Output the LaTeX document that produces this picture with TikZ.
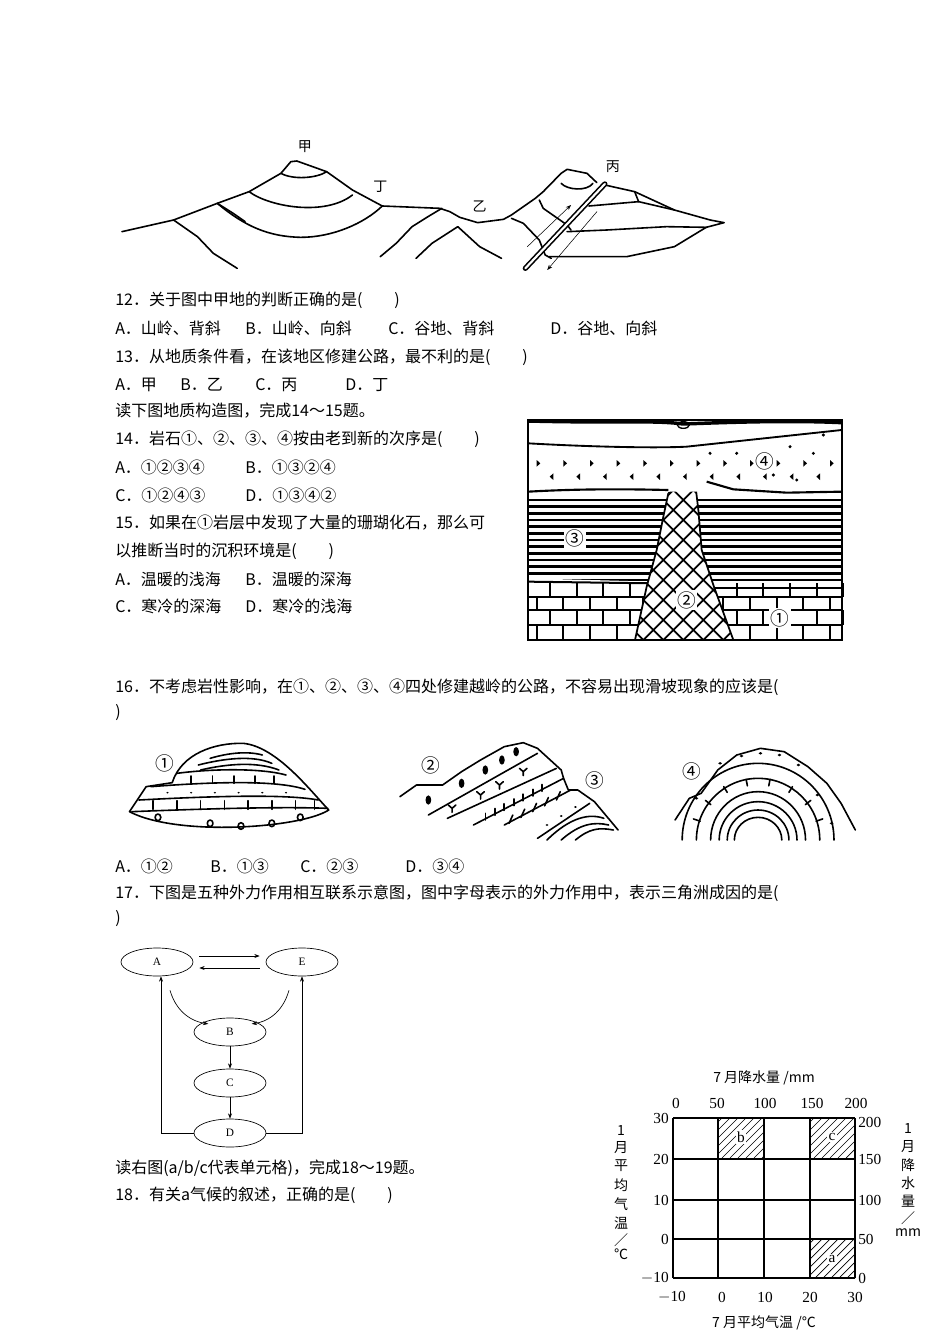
\documentclass[tikz,border=0pt]{standalone}
\usepackage{fontspec}
\setmainfont{Noto Sans CJK SC}
\newfontfamily\serif{Liberation Serif}
\usetikzlibrary{shapes.geometric,arrows.meta,calc}
\tikzset{
 txt/.style={anchor=west,inner sep=0pt,font=\fontsize{12}{12}\selectfont},
 sk/.style={line width=1.2pt,line join=round,line cap=round},
 ell/.style={ellipse,draw,line width=0.5pt,minimum width=54pt,minimum height=21pt,inner sep=0pt,font=\serif\fontsize{8.5}{8.5}\selectfont},
 fa/.style={-{Stealth[length=4pt,width=3pt]},line width=0.5pt},
 num/.style={inner sep=0pt,font=\serif\fontsize{11.5}{11.5}\selectfont},
 cj/.style={inner sep=0pt,font=\fontsize{10.5}{10.5}\selectfont},
 circ/.style={inner sep=1pt,font=\fontsize{14}{14}\selectfont}
}
\begin{document}
\begin{tikzpicture}[x=0.75pt,y=-0.75pt]
\fill[white] (0,0) rectangle (950,1344);
\useasboundingbox (0,0) rectangle (950,1344);

% ---------- top cross-section ----------
\begin{scope}[shift={(110,130)}]
\begin{scope}[x=0.2981pt,y=-0.25pt,sk]
\draw (30,305)--(160,270)--(270,220)--(350,185)--(430,130)--(455,95)--(470,93)--(545,125)--(610,180)--(685,228)--(830,235)--(855,245)--(880,262)--(925,278)--(990,268)--(1010,255)--(1070,205)--(1090,185)--(1135,130)--(1150,118)--(1200,130)--(1225,158);
\draw (1245,165)--(1320,185)--(1420,240)--(1510,270)--(1545,278)--(1500,292);
\draw (430,130)..controls(460,150)and(520,145)..(545,125);
\draw (350,185)..controls(400,230)and(540,260)..(610,195);
\draw (270,220)..controls(340,290)and(400,320)..(480,322)..controls(560,322)and(640,280)..(685,228);
\draw (160,270)--(220,320)--(260,370)--(320,415);
\draw (270,220)--(310,250)--(340,275);
\draw (680,380)--(720,340)--(760,290)--(800,260)--(835,235);
\draw (770,385)--(810,340)--(875,290)--(930,350)--(985,385);
\draw (1135,160)..controls(1150,180)and(1200,185)..(1215,160);
\draw (1080,210)--(1090,235)--(1150,285)--(1160,300);
\draw (1010,265)--(1040,280)--(1080,330)--(1095,375)--(1110,385);
\draw (1320,185)--(1330,215);
\draw (1205,228)--(1330,215)--(1420,240);
\draw (1150,305)--(1250,300)--(1400,290)--(1500,292);
\draw (1105,380)--(1300,380)--(1420,350)--(1500,292);
\draw[line width=1.2pt,double distance=1.6pt] (1045,415)--(1245,162);
\draw[fa,line width=0.4pt] (1050,350)--(1160,225);
\draw[fa,line width=0.4pt] (1225,245)--(1100,420);
\node[cj] (jia) at (490,50) {甲};
\node[cj] (ding) at (680,170) {丁};
\node[cj] (yi) at (930,230) {乙};
\node[cj] (bing) at (1265,110) {丙};
\end{scope}
\end{scope}

% ---------- text ----------
\node[txt] (t1) at (115,300) {12．关于图中甲地的判断正确的是(　　)};
\node[txt] (t2a) at (115,328) {A．山岭、背斜};
\node[txt] (t2b) at (245,328) {B．山岭、向斜};
\node[txt] (t2c) at (388,328) {C．谷地、背斜};
\node[txt] (t2d) at (550,328) {D．谷地、向斜};
\node[txt] (t3) at (115,357) {13．从地质条件看，在该地区修建公路，最不利的是(　　)};
\node[txt] (t4a) at (115,385) {A．甲};
\node[txt] (t4b) at (180,385) {B．乙};
\node[txt] (t4c) at (255,385) {C．丙};
\node[txt] (t4d) at (345,385) {D．丁};
\node[txt] (t5) at (115,411) {读下图地质构造图，完成14～15题。};
\node[txt] (t6) at (115,439) {14．岩石①、②、③、④按由老到新的次序是(　　)};
\node[txt] (t7a) at (115,467) {A．①②③④};
\node[txt] (t7b) at (245,467) {B．①③②④};
\node[txt] (t8a) at (115,495) {C．①②④③};
\node[txt] (t8b) at (245,495) {D．①③④②};
\node[txt] (t9) at (115,523) {15．如果在①岩层中发现了大量的珊瑚化石，那么可};
\node[txt] (t10) at (115,551) {以推断当时的沉积环境是(　　)};
\node[txt] (t11a) at (115,579) {A．温暖的浅海};
\node[txt] (t11b) at (245,579) {B．温暖的深海};
\node[txt] (t12a) at (115,606) {C．寒冷的深海};
\node[txt] (t12b) at (245,606) {D．寒冷的浅海};
\node[txt] (t13) at (115,687) {16．不考虑岩性影响，在①、②、③、④四处修建越岭的公路，不容易出现滑坡现象的应该是(};
\node[txt] (t14) at (115,713) {)};
\node[txt] (t15a) at (115,866) {A．①②};
\node[txt] (t15b) at (210,866) {B．①③};
\node[txt] (t15c) at (300,866) {C．②③};
\node[txt] (t15d) at (405,866) {D．③④};
\node[txt] (t16) at (115,893) {17．下图是五种外力作用相互联系示意图，图中字母表示的外力作用中，表示三角洲成因的是(};
\node[txt] (t17) at (115,919) {)};
\node[txt] (t18) at (115,1168) {读右图(a/b/c代表单元格)，完成18～19题。};
\node[txt] (t19) at (115,1195) {18．有关a气候的叙述，正确的是(　　)};

% ---------- geology block ----------
\begin{scope}[shift={(520,410)}]
\begin{scope}[x=0.25pt,y=-0.25pt]
\foreach \y in {270,290,...,510} {\draw[line width=2.2pt] (25,\y)--(965,\y);}
\fill[white] (25,505) -- (400,515) -- (400,540) -- (25,540) -- cycle;
\fill[white] (540,530) -- (965,530) -- (965,545) -- (540,545) -- cycle;
\draw[line width=1.5pt] (25,515)--(400,520);
\draw[line width=1.5pt] (580,535)--(965,535);
\foreach \y in {560,600,645} {\draw[line width=1.4pt] (25,\y)--(965,\y);}
\foreach \x in {90,170,...,970} {\draw[line width=1.4pt] (\x,520)--(\x,560); \draw[line width=1.4pt] (\x,600)--(\x,645);}
\foreach \x in {50,130,...,970} {\draw[line width=1.4pt] (\x,560)--(\x,600); \draw[line width=1.4pt] (\x,645)--(\x,690);}
\fill[white] (445,250)--(505,215)--(525,215)--(535,300)--(545,420)--(580,525)--(640,690)--(345,690)--(380,530)--(410,420)--(430,320)--cycle;
\begin{scope}
\clip (445,250)--(505,215)--(525,215)--(535,300)--(545,420)--(580,525)--(640,690)--(345,690)--(380,530)--(410,420)--(430,320)--cycle;
\foreach \k in {-600,-540,...,1200} {\draw[line width=1.4pt] (\k,700)--(\k+500,200); \draw[line width=1.4pt] (\k,200)--(\k+500,700);}
\end{scope}
\draw[line width=1.3pt] (445,250)--(505,215)--(525,215)--(535,300)--(545,420)--(580,525)--(640,690);
\draw[line width=1.3pt] (345,690)--(380,530)--(410,420)--(430,320)--(445,250);
\fill[white] (25,100) -- (500,112) -- (965,60) -- (965,245) -- (25,245) -- cycle;
\draw[line width=1.4pt] (25,100)..controls(200,110)and(400,115)..(500,110)--(965,60);
\draw[line width=1.6pt] (25,245)..controls(200,235)and(350,238)..(445,240);
\draw[line width=1.6pt] (560,215)--(640,238)--(800,248)--(965,245);
\foreach \x in {55,135,...,935} {\fill (\x-5,150)--(\x+6,160)--(\x-5,170)--cycle;}
\foreach \x in {95,175,...,935} {\fill (\x+5,190)--(\x-6,200)--(\x+5,210)--cycle;}
\foreach \p in {(810,110),(830,210),(880,130),(910,75),(650,130),(760,195),(570,130)} {\fill \p circle (5);}
\draw[line width=1.6pt] (25,30) rectangle (965,690);
\draw[line width=2.6pt] (25,33)..controls(300,40)and(400,30)..(490,42)..controls(600,38)and(800,30)..(965,38);
\draw[line width=1pt] (490,45) ellipse (18 and 10);
\node[circ,fill=white] (g4) at (735,155) {④};
\node[circ,fill=white] (g3) at (165,385) {③};
\node[circ,fill=white] (g2) at (500,570) {②};
\node[circ,fill=white] (g1) at (780,625) {①};
\end{scope}
\end{scope}

% ---------- three slope pictures ----------
\begin{scope}[shift={(120,740)}]
\begin{scope}[x=0.3558pt,y=-0.25pt,sk]
\draw (20,215)--(55,140)--(110,128)..controls(130,40)and(200,8)..(260,10)..controls(330,20)and(400,150)..(440,210)..controls(380,265)and(120,290)..(20,215)--cycle;
\draw (120,100)..controls(200,85)and(300,85)..(350,105);
\draw (165,75)..controls(220,55)and(280,45)..(320,70);
\draw (190,55)..controls(230,38)and(270,33)..(300,45);
\draw (170,90)..controls(230,70)and(290,65)..(335,90);
\draw (65,140)..controls(200,125)and(330,120)..(390,148);
\foreach \x in {150,195,240,285,325} {\draw (\x,108)--(\x,130);}
\draw (40,180)..controls(200,168)and(350,162)..(418,180);
\foreach \x in {100,150,200,250,300,350} {\fill (\x,158) circle (2.5);}
\draw (25,215)..controls(200,205)and(350,200)..(438,205);
\foreach \x in {70,120,170,220,270,320,370,410} {\draw (\x,182)--(\x,208);}
\foreach \x/\y in {80/232,190/250,255/258,320/250,380/232} {\draw (\x,\y) ellipse (6 and 10);}
\node[circ] (p1) at (95,70) {①};
\draw (590,170)--(625,135)--(680,135)--(720,95)--(760,60)--(810,20)--(850,8)--(880,25)--(930,90)--(935,115)--(945,150)--(965,150)--(1000,185)--(1050,270);
\draw (650,225)--(880,40);
\draw (690,235)--(920,85);
\draw (745,255)--(935,115);
\draw (810,255)--(950,150);
\draw (880,295)--(990,190);
\foreach \x/\y in {650/180,720/130,770/90,805/60,835/35} {\fill (\x,\y) ellipse (6 and 14);}
\foreach \x/\y in {700/205,760/165,800/135,850/95} {\draw (\x-8,\y-10)--(\x,\y)--(\x+8,\y-10) (\x,\y)--(\x,\y+12);}
\foreach \x in {770,790,...,900} {\draw (\x,{220-(\x-770)*0.72})--(\x,{240-(\x-770)*0.72});}
\foreach \x in {820,845,870,895,920} {\draw (\x,{250-(\x-820)*0.7})--(\x+8,{225-(\x-820)*0.7});}
\foreach \x in {900,930,960} {\fill (\x,{255-(\x-900)*0.9}) circle (3);}
\draw (900,300)..controls(950,230)and(990,220)..(1020,235);
\draw (930,300)..controls(970,250)and(1000,245)..(1030,255);
\draw (960,300)..controls(990,265)and(1010,262)..(1040,270);
\node[circ] (p2) at (655,75) {②};
\node[circ] (p3) at (1000,120) {③};
\draw (1170,240)--(1200,175)--(1225,160)--(1260,90)--(1300,45)--(1350,25)--(1400,35)--(1450,80)--(1490,130)--(1520,190)--(1550,270);
\foreach \rx/\ry in {160/230,130/185,100/145,82/115,65/90,50/68} {\draw (1345+\rx,300) arc[start angle=0,end angle=-180,x radius=\rx,y radius=\ry];}
\foreach \x/\y in {1265/70,1310/48,1350/40,1390/45,1430/75,1215/175,1470/165,1500/250} {\fill (\x,\y) circle (4);}
\foreach \a in {20,40,...,160} {\draw ({1345+145*cos(\a)},{300-185*sin(\a)})--({1345+130*cos(\a)},{300-165*sin(\a)});}
\node[circ] (p4) at (1205,95) {④};
\end{scope}
\end{scope}

% ---------- flowchart ----------
\node[ell] (A) at (157,962) {A};
\node[ell] (E) at (302,962) {E};
\node[ell] (B) at (230,1032) {B};
\node[ell] (C) at (230,1083) {C};
\node[ell] (D) at (230,1133) {D};
\draw[fa] ($(A.east)+(6,-6)$) -- ($(E.west)+(-6,-6)$);
\draw[fa] ($(E.west)+(-6,6)$) -- ($(A.east)+(6,6)$);
\draw[fa] ($(A.south)+(13,14)$) .. controls ($(A.south)+(20,38)$) and ($(B.north west)+(-10,0)$) .. ($(B.north west)+(4,2)$);
\draw[fa] ($(E.south)+(-13,14)$) .. controls ($(E.south)+(-20,38)$) and ($(B.north east)+(10,0)$) .. ($(B.north east)+(-4,2)$);
\draw[fa] (B.south) -- (C.north);
\draw[fa] (C.south) -- (D.north);
\draw[fa] (D.west) -| ($(A.south)+(4,0)$);
\draw[fa] (D.east) -| (E.south);

% ---------- climate chart ----------
\foreach \x/\y in {718/1118,810/1118,810/1239} {
 \begin{scope}\clip (\x,\y) rectangle ++(45,39);
 \foreach \k in {-60,-52,...,60} {\draw[line width=0.5pt] (\x+\k,\y+40)--(\x+\k+40,\y);}
 \end{scope}}
\foreach \x in {673,718,764,810,855} {\draw[line width=0.8pt] (\x,1118)--(\x,1278);}
\foreach \y in {1118,1159,1200,1239,1278} {\draw[line width=0.8pt] (673,\y)--(855,\y);}
\node[num,fill=white,inner sep=1pt] (cb) at (741,1137) {b};
\node[num,fill=white,inner sep=1pt] (cc) at (832,1137) {c};
\node[num,fill=white,inner sep=1pt] (ca) at (832,1259) {a};
\node[cj] (tt) at (764,1078) {7 月降水量 /mm};
\node[cj] (bt) at (764,1323) {7 月平均气温 /℃};
\foreach \x/\l in {676/0,717/50,765/100,812/150,856/200} {\node[num] at (\x,1103) {\l};}
\foreach \x/\l in {672/$-$10,722/0,765/10,810/20,855/30} {\node[num] at (\x,1297) {\l};}
\foreach \y/\l in {1118/30,1159/20,1200/10,1239/0,1278/$-$10} {\node[num,anchor=east] at (669,\y) {\l};}
\foreach \y/\l in {1122/200,1159/150,1200/100,1239/50,1278/0} {\node[num,anchor=west] at (858,\y) {\l};}
\foreach \y/\l in {1130/1,1148/月,1166/平,1185/均,1204/气,1223/温,1240/／,1254/℃} {\node[cj] at (621,\y) {\l};}
\foreach \y/\l in {1128/1,1147/月,1165/降,1183/水,1201/量,1218/／,1233/mm} {\node[cj] at (908,\y) {\l};}
\end{tikzpicture}
\end{document}
